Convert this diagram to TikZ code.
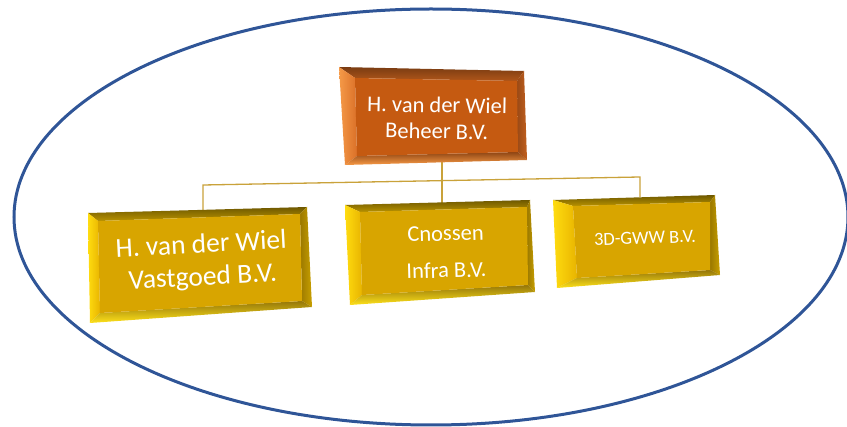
\documentclass[tikz,border=0pt]{standalone}
\usepackage{fontspec}
\setmainfont{Carlito}
\definecolor{ringblue}{HTML}{2F5597}
\definecolor{linkgold}{HTML}{C9A23A}
\definecolor{orface}{HTML}{C55A11}
\definecolor{ortopA}{HTML}{7A3C12}
\definecolor{ortopB}{HTML}{B0561A}
\definecolor{orleftA}{HTML}{F59A48}
\definecolor{orleftB}{HTML}{DA7028}
\definecolor{orbotA}{HTML}{8E4514}
\definecolor{orbotB}{HTML}{F89A45}
\definecolor{orrightA}{HTML}{9A4A16}
\definecolor{orrightB}{HTML}{C2601E}
\definecolor{gdface}{HTML}{D8A500}
\definecolor{gdtopA}{HTML}{6E5800}
\definecolor{gdtopB}{HTML}{B89200}
\definecolor{gdleftA}{HTML}{FFDC10}
\definecolor{gdleftB}{HTML}{E8B400}
\definecolor{gdbotA}{HTML}{94760A}
\definecolor{gdbotB}{HTML}{FFE21A}
\definecolor{gdrightA}{HTML}{9A7800}
\definecolor{gdrightB}{HTML}{C9A000}
% #1 prefix, #2 palette prefix (or/gd)
\newcommand\bevbox[2]{%
  \shade[top color=#2topA,bottom color=#2topB] (#1o1) -- (#1o2) -- (#1i2) -- (#1i1) -- cycle;
  \shade[left color=#2leftA,right color=#2leftB] (#1o1) -- (#1i1) -- (#1i4) -- (#1o4) -- cycle;
  \shade[top color=#2botA,bottom color=#2botB] (#1i4) -- (#1i3) -- (#1o3) -- (#1o4) -- cycle;
  \shade[left color=#2rightA,right color=#2rightB] (#1i2) -- (#1o2) -- (#1o3) -- (#1i3) -- cycle;
  \fill[#2face] (#1i1) -- (#1i2) -- (#1i3) -- (#1i4) -- cycle;}
\tikzset{
  boxtext/.style={text=white, align=center, inner sep=0pt},
  link/.style={draw=linkgold, line width=1.3pt},
  ring/.style={draw=ringblue, line width=3pt}
}
\begin{document}
\begin{tikzpicture}[x=1pt,y=-1pt]
\useasboundingbox (0,0) rectangle (847,427);
\draw[ring] (431,217) ellipse [x radius=417, y radius=208];
% top box
\coordinate (To1) at (339,67); \coordinate (To2) at (524,71);
\coordinate (To3) at (527,160); \coordinate (To4) at (345,165);
\coordinate (Ti1) at (355,78); \coordinate (Ti2) at (517,81);
\coordinate (Ti3) at (518,152); \coordinate (Ti4) at (357,156);
% left box
\coordinate (Lo1) at (88,213); \coordinate (Lo2) at (307,207);
\coordinate (Lo3) at (312,307); \coordinate (Lo4) at (90,323);
\coordinate (Li1) at (98,221); \coordinate (Li2) at (300,214);
\coordinate (Li3) at (302,301); \coordinate (Li4) at (100,313);
% middle box
\coordinate (Co1) at (345,205); \coordinate (Co2) at (530,200);
\coordinate (Co3) at (535,292); \coordinate (Co4) at (350,305);
\coordinate (Ci1) at (360,212); \coordinate (Ci2) at (527,207);
\coordinate (Ci3) at (528,285); \coordinate (Ci4) at (362,295);
% right box
\coordinate (Go1) at (553,200); \coordinate (Go2) at (715,195);
\coordinate (Go3) at (720,275); \coordinate (Go4) at (557,288);
\coordinate (Gi1) at (573,206); \coordinate (Gi2) at (710,202);
\coordinate (Gi3) at (710,270); \coordinate (Gi4) at (577,278);
% connector points
\coordinate (tB) at (442,161);
\coordinate (jL) at (203,185);
\coordinate (jC) at (442,181);
\coordinate (jR) at (640,177);
\coordinate (lT) at (203,211);
\coordinate (cT) at (442,203);
\coordinate (gT) at (640,197);
\draw[link] (tB) -- (cT);
\draw[link] (lT) -- (jL) -- (jR) -- (gT);
\bevbox{T}{or}
\bevbox{L}{gd}
\bevbox{C}{gd}
\bevbox{G}{gd}
\node[boxtext, rotate=-1, font=\fontsize{22.5}{26}\selectfont] (beheer) at (437,118) {H. van der Wiel\\Beheer B.V.};
\node[boxtext, rotate=3, font=\fontsize{27.5}{32.5}\selectfont] (vastgoed) at (202,262) {H. van der Wiel\\Vastgoed B.V.};
\node[boxtext, rotate=1.5, font=\fontsize{22.5}{37}\selectfont] (cnossen) at (446,252) {Cnossen\\Infra B.V.};
\node[boxtext, rotate=2, font=\fontsize{18.5}{22}\selectfont] (gww) at (645,238) {3D-GWW B.V.};
\end{tikzpicture}
\end{document}
